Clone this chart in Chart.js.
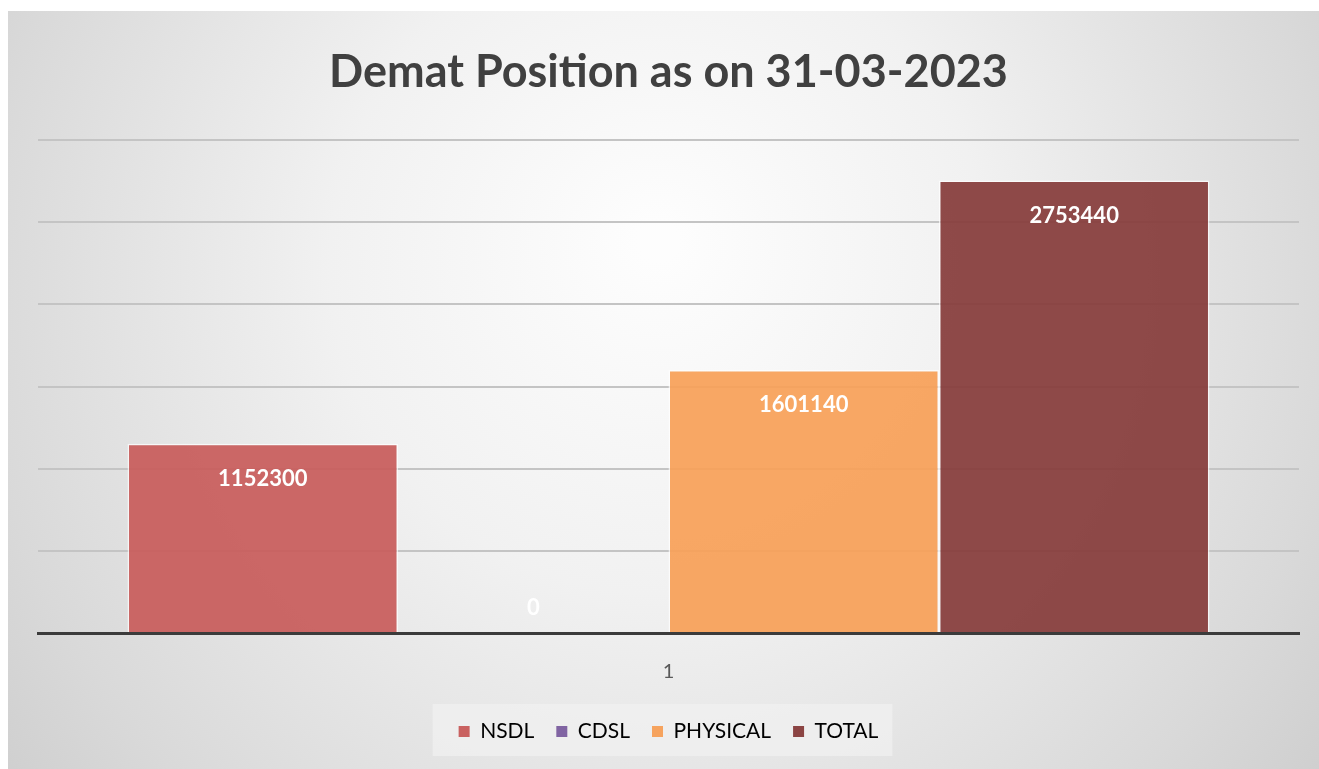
<!DOCTYPE html>
<html>
<head>
<meta charset="utf-8">
<script src="https://cdn.jsdelivr.net/npm/chart.js@4.4.0/dist/chart.umd.min.js"></script>
<style>
  html, body { margin: 0; padding: 0; background: #ffffff; width: 1319px; height: 769px; overflow: hidden; }
  #c { position: absolute; left: 8px; top: 11px; }
</style>
</head>
<body>
<canvas id="c" width="1311" height="758"></canvas>
<script>
const chartTitle = 'Demat Position as on 31-03-2023';
const categories = ['1'];
const seriesNames = ['NSDL', 'CDSL', 'PHYSICAL', 'TOTAL'];
const nsdlValues = [1152300];
const cdslValues = [0];
const physicalValues = [1601140];
const totalValues = [2753440];
const seriesColors = ['rgba(200,92,91,0.93)', 'rgba(128,100,162,0.93)', 'rgba(247,160,88,0.93)', 'rgba(134,60,59,0.93)'];
const legendColors = ['#c96160', '#8064a2', '#f6a35e', '#8b4443'];
const yMin = 0, yMax = 3000000, yStep = 500000;

const bgPlugin = {
  id: 'bg',
  beforeDraw(chart) {
    const ctx = chart.ctx;
    const w = chart.width, h = chart.height;
    ctx.save();
    const g = ctx.createRadialGradient(650, 230, 20, 650, 300, 900);
    g.addColorStop(0, '#fdfdfd');
    g.addColorStop(0.35, '#f1f1f1');
    g.addColorStop(0.75, '#d9d9d9');
    g.addColorStop(1, '#c8c8c8');
    ctx.fillStyle = g;
    ctx.fillRect(0, 0, w, h);
    const lg = chart.legend;
    if (lg && lg.legendHitBoxes && lg.legendHitBoxes.length) {
      let l = Infinity, r = -Infinity;
      lg.legendHitBoxes.forEach(b => { l = Math.min(l, b.left); r = Math.max(r, b.left + b.width); });
      ctx.fillStyle = 'rgba(240,240,240,0.75)';
      ctx.fillRect(l - 26, lg.top + 5, (r - l) + 40, 52);
    }
    ctx.restore();
  }
};

const labelPlugin = {
  id: 'vlabels',
  afterDatasetsDraw(chart) {
    const ctx = chart.ctx;
    ctx.save();
    ctx.font = 'bold 22px Lato';
    ctx.fillStyle = '#ffffff';
    ctx.textAlign = 'center';
    ctx.textBaseline = 'middle';
    chart.data.datasets.forEach((ds, i) => {
      const meta = chart.getDatasetMeta(i);
      meta.data.forEach((bar, j) => {
        const v = ds.data[j];
        const y = v === 0 ? bar.base - 25 : bar.y + 35;
        ctx.fillText(String(v), bar.x, y);
      });
    });
    ctx.restore();
  }
};

const seriesData = [nsdlValues, cdslValues, physicalValues, totalValues];
new Chart(document.getElementById('c'), {
  type: 'bar',
  data: {
    labels: categories,
    datasets: seriesNames.map((name, i) => ({
      label: name,
      data: seriesData[i],
      backgroundColor: seriesColors[i],
      borderColor: 'rgba(255,255,255,0.7)',
      borderWidth: 1.5,
      borderSkipped: 'bottom',
      categoryPercentage: 0.858,
      barPercentage: 1.0
    }))
  },
  options: {
    responsive: false,
    devicePixelRatio: 1,
    animation: false,
    layout: { padding: { left: 30, right: 20, top: 0, bottom: 17 } },
    scales: {
      x: {
        grid: { display: false },
        border: { display: true, color: '#3b3b3b', width: 3 },
        ticks: { color: '#595959', font: { family: 'Lato', size: 20 }, padding: 19 },
        afterFit(scale) { scale.height -= 4; }
      },
      y: {
        min: yMin, max: yMax,
        ticks: { display: false, stepSize: yStep },
        border: { display: false },
        grid: { color: '#c4c4c4', lineWidth: 2, drawTicks: false }
      }
    },
    plugins: {
      title: {
        display: true,
        text: chartTitle,
        color: '#404040',
        font: { family: 'Lato', size: 45, weight: 'bold' },
        padding: { top: 34, bottom: 41 }
      },
      legend: {
        position: 'bottom',
        labels: {
          color: '#595959',
          font: { family: 'Lato', size: 21 },
          boxWidth: 11,
          boxHeight: 11,
          padding: 22,
          generateLabels(chart) {
            return chart.data.datasets.map((ds, i) => ({
              text: ds.label,
              fillStyle: legendColors[i],
              strokeStyle: legendColors[i],
              lineWidth: 0,
              datasetIndex: i,
              hidden: false
            }));
          }
        }
      },
      tooltip: { enabled: false }
    }
  },
  plugins: [bgPlugin, labelPlugin]
});
</script>
</body>
</html>
